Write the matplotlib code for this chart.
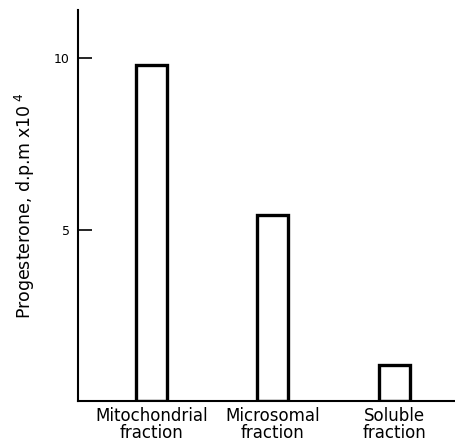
import numpy as np
import matplotlib
matplotlib.use("Agg")
import matplotlib.pyplot as plt

# Data
fractions = ["Mitochondrial\nfraction", "Microsomal\nfraction", "Soluble\nfraction"]
progesterone = [9.8, 5.42, 1.05]
ytick_values = [5, 10]

plt.rcParams["font.family"] = "DejaVu Sans"

fig = plt.figure(figsize=(4.55, 4.43), dpi=100)
ax = fig.add_axes([78 / 455, 42 / 443, 1 - 78 / 455, 391 / 443])

x = np.arange(len(fractions))
ax.bar(x, progesterone, width=0.255, facecolor="white", edgecolor="black", linewidth=2.4)

ax.set_xlim(-0.605, 2.5)
ax.set_ylim(0, 11.4)

ax.set_yticks(ytick_values)
ax.set_yticklabels([str(v) for v in ytick_values], fontsize=9)
ax.tick_params(axis="y", direction="in", length=10, width=1.2, pad=6)

ax.set_xticks(x)
ax.set_xticklabels(fractions, fontsize=12, linespacing=0.95)
ax.tick_params(axis="x", length=0, pad=4)

for side in ["top", "right"]:
    ax.spines[side].set_visible(False)
for side in ["left", "bottom"]:
    ax.spines[side].set_linewidth(1.5)

ax.set_ylabel("Progesterone, d.p.m x10$^{\\ 4}$", fontsize=12.5, labelpad=12)

fig.savefig("out.png", dpi=100)
